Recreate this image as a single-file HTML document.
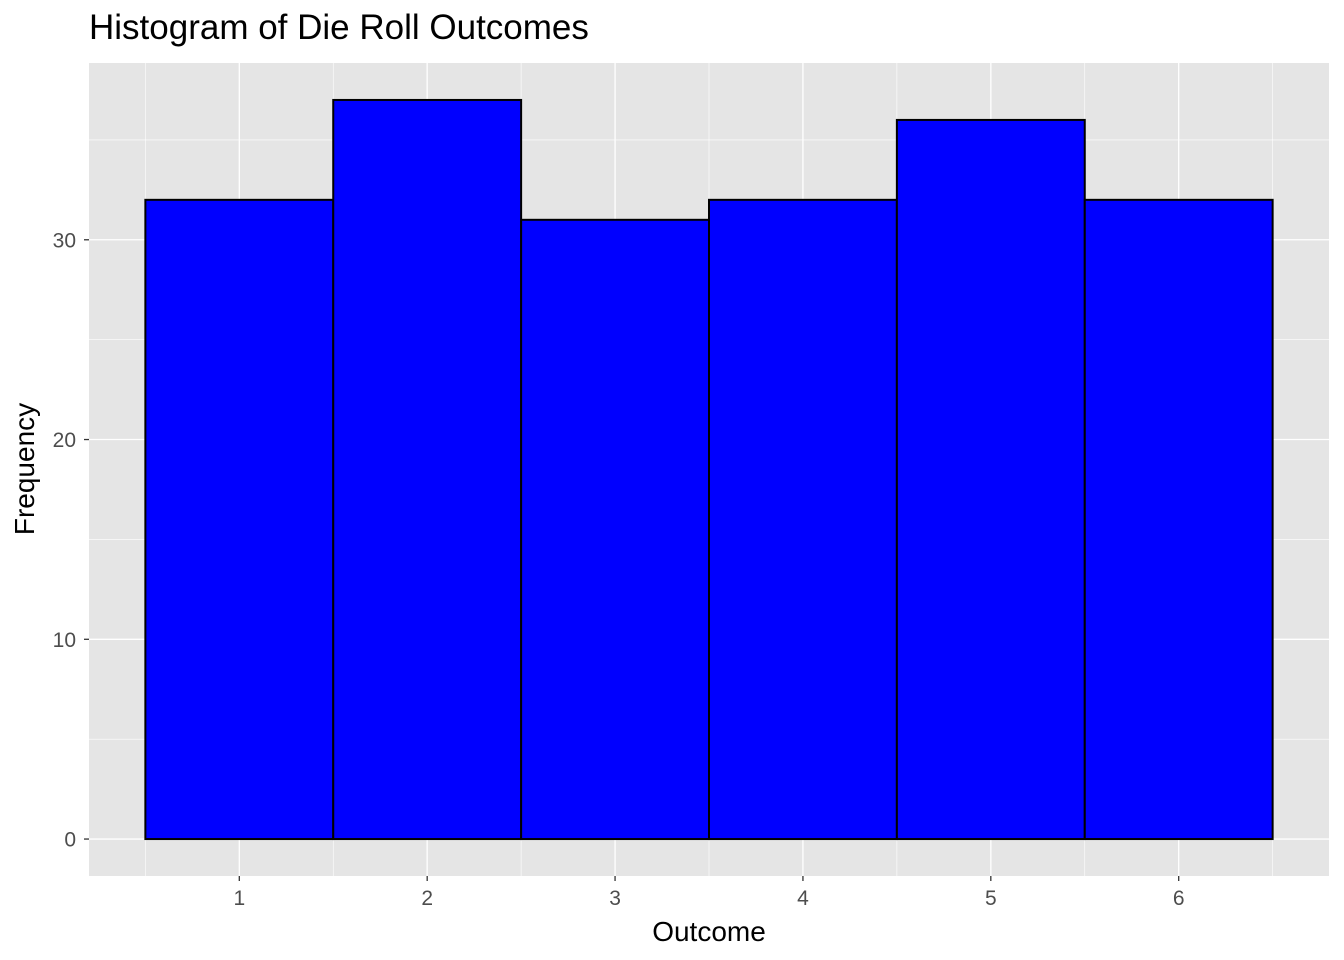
<!DOCTYPE html>
<html><head><meta charset="utf-8"><style>
html,body{margin:0;padding:0;background:#fff;}
svg{display:block;font-family:"Liberation Sans",Arial,sans-serif;}
</style></head><body>
<svg id="chart" width="1344" height="960" viewBox="0 0 1344 960">
<text x="89" y="39" font-size="35" fill="#000">Histogram of Die Roll Outcomes</text>
<rect x="89" y="63" width="1240" height="813" fill="#e5e5e5"/>
<g id="grid"></g>
<g id="bars"></g>
<g id="axes"></g>
<text x="709" y="941" font-size="28" text-anchor="middle" fill="#000">Outcome</text>
<text transform="translate(34,469) rotate(-90)" font-size="28" text-anchor="middle" fill="#000">Frequency</text>
</svg>
<script>
const outcomes = [1, 2, 3, 4, 5, 6];
const frequencies = [32, 37, 31, 32, 36, 32];
const yTicks = [0, 10, 20, 30];
const yMinor = [5, 15, 25, 35];
const xMinor = [0.5, 1.5, 2.5, 3.5, 4.5, 5.5, 6.5];

const NS = "http://www.w3.org/2000/svg";
const px0 = 89, px1 = 1329, py0 = 63, py1 = 876;
const xMin = 0.2, xMax = 6.8;
const yMaxV = Math.max(...frequencies);
const yLo = -yMaxV * 0.05, yHi = yMaxV * 1.05;
const xs = v => px0 + (v - xMin) / (xMax - xMin) * (px1 - px0);
const ys = v => py1 - (v - yLo) / (yHi - yLo) * (py1 - py0);
function mk(tag, attrs, parent) {
  const e = document.createElementNS(NS, tag);
  for (const k in attrs) e.setAttribute(k, attrs[k]);
  parent.appendChild(e);
  return e;
}
const grid = document.getElementById('grid');
const bars = document.getElementById('bars');
const axes = document.getElementById('axes');

yMinor.forEach(v => {
  const l = mk('line', {x1: px0, x2: px1, y1: ys(v), y2: ys(v), stroke: '#fff', 'stroke-width': 0.6}, grid);
  
  
});
xMinor.forEach(v => {
  const l = mk('line', {x1: xs(v), x2: xs(v), y1: py0, y2: py1, stroke: '#fff', 'stroke-width': 0.6}, grid);
  
  
});
yTicks.forEach(v => {
  const l = mk('line', {x1: px0, x2: px1, y1: ys(v), y2: ys(v), stroke: '#fff', 'stroke-width': 1.3}, grid);
  
  
  const t = mk('line', {x1: px0 - 5, x2: px0, y1: ys(v), y2: ys(v), stroke: '#333', 'stroke-width': 1.3}, axes);
  
  
  const tx = mk('text', {x: px0 - 13, y: ys(v) + 7.5, 'font-size': 21, 'text-anchor': 'end', fill: '#4d4d4d'}, axes);
  tx.textContent = v;
  
  
});
outcomes.forEach(v => {
  const l = mk('line', {x1: xs(v), x2: xs(v), y1: py0, y2: py1, stroke: '#fff', 'stroke-width': 1.3}, grid);
  
  
  const t = mk('line', {x1: xs(v), x2: xs(v), y1: py1, y2: py1 + 5, stroke: '#333', 'stroke-width': 1.3}, axes);
  
  
  const tx = mk('text', {x: xs(v), y: py1 + 29, 'font-size': 21, 'text-anchor': 'middle', fill: '#4d4d4d'}, axes);
  tx.textContent = v;
  
  
});
outcomes.forEach((v, i) => {
  const x0 = xs(v - 0.5), x1 = xs(v + 0.5);
  const r = mk('rect', {x: x0, y: ys(frequencies[i]), width: x1 - x0, height: ys(0) - ys(frequencies[i]), fill: '#0000ff', stroke: '#000', 'stroke-width': 2}, bars);
  
  
});
</script>
</body></html>
